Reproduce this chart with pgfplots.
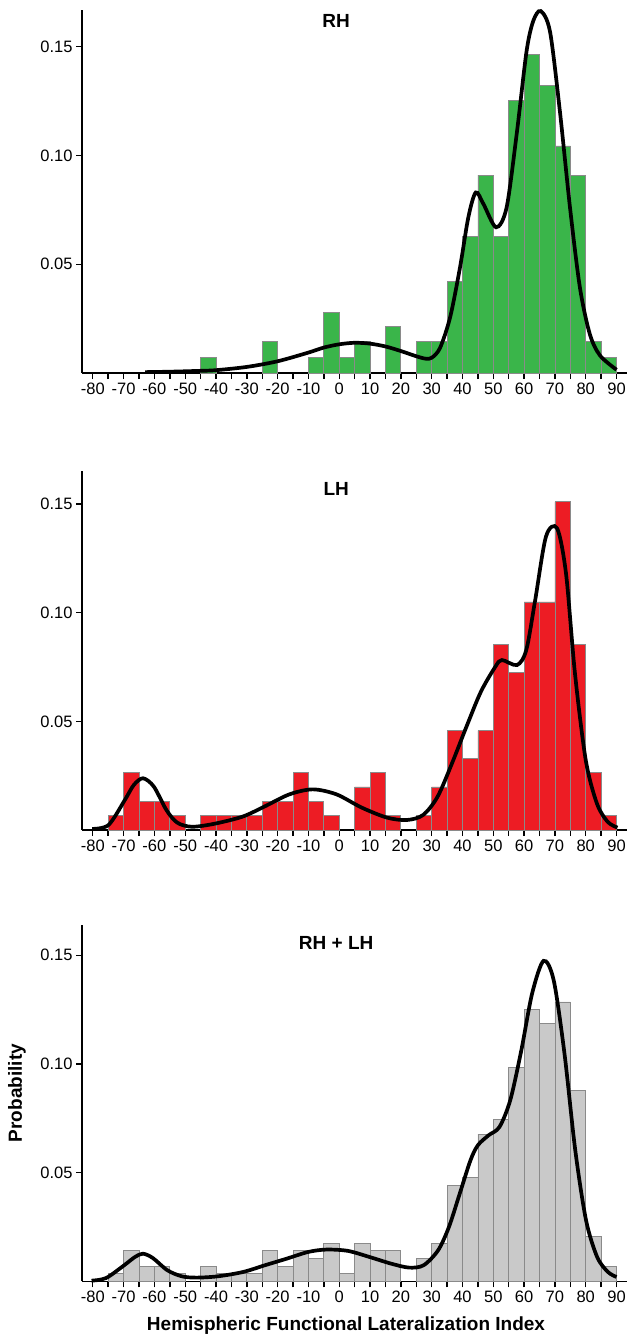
\documentclass[border=0pt]{standalone}
\usepackage{fontspec}
\setmainfont{Liberation Sans}
\usepackage{pgfplots}
\pgfplotsset{compat=1.18}
\definecolor{rhgreen}{HTML}{3AB54A}
\definecolor{lhred}{HTML}{ED1C24}
\definecolor{bothgray}{HTML}{C9C9C9}
\definecolor{edgegray}{HTML}{8A8A8A}
\pgfplotsset{
  hfli/.style={
    scale only axis, width=544.7pt, anchor=south west,
    xmin=-83.5, xmax=93.3, ymin=0,
    axis x line=bottom, axis y line=left,
    axis line style={line width=1.6pt, -},
    xtick={-80,-70,...,90}, minor xtick={-75,-65,...,85},
    xticklabels={-80,-70,-60,-50,-40,-30,-20,-10,0,10,20,30,40,50,60,70,80,90},
    ytick={0.05,0.10,0.15}, yticklabels={0.05,0.10,0.15},
    tick align=outside, major tick length=6pt, minor tick length=6pt,
    tick style={black, line width=1.4pt},
    minor tick style={black, line width=1.4pt},
    tick label style={font=\fontsize{16.5}{18}\selectfont},
    clip=false,
  },
  bars/.style={ybar, bar width=5, bar shift=0pt, draw=edgegray, line width=0.8pt},
  kde/.style={black, line width=3.7pt, smooth, no markers},
}
\begin{document}
\begin{tikzpicture}
\path[use as bounding box] (0,0) rectangle (628pt,-1341pt);
% ---------- RH ----------
\begin{axis}[hfli, at={(82pt,-373pt)}, height=363pt, ymax=0.1669]
\addplot[bars, fill=rhgreen] coordinates {
(-42.5,0.0073) (-22.5,0.0145) (-7.5,0.0073) (-2.5,0.0280) (2.5,0.0073) (7.5,0.0145)
(17.5,0.0213) (27.5,0.0145) (32.5,0.0145) (37.5,0.0420) (42.5,0.0628) (47.5,0.0910)
(52.5,0.0628) (57.5,0.1254) (62.5,0.1465) (67.5,0.1324) (72.5,0.1044) (77.5,0.0910)
(82.5,0.0145) (87.5,0.0073)};
\addplot[kde] coordinates {
(-63,0.0004) (-55,0.0006) (-45,0.0010) (-40,0.0013) (-30,0.0028) (-20,0.0054)
(-10,0.0094) (-5,0.0117) (0,0.0132) (5,0.0139) (10,0.0135) (15,0.0122) (20,0.0101)
(25,0.0077) (28,0.0066) (30,0.0070) (32.7,0.0115) (36,0.0257) (39.2,0.0486)
(41.9,0.0716) (44.3,0.0830) (46.8,0.0777) (50.9,0.0670) (54.3,0.0760) (57.6,0.1100)
(60.8,0.1480) (63,0.1620) (65.4,0.1664) (68.4,0.1570) (71.6,0.1205) (74.9,0.0760)
(78.1,0.0394) (81.3,0.0180) (84.6,0.0081) (90,0.0015)};
\node[font=\bfseries\fontsize{19}{22}\selectfont] at (axis cs:-1,0.1618) {RH};
\end{axis}
% ---------- LH ----------
\begin{axis}[hfli, at={(82pt,-830pt)}, height=359.3pt, ymax=0.1653]
\addplot[bars, fill=lhred] coordinates {
(-72.5,0.0066) (-67.5,0.0264) (-62.5,0.0132) (-57.5,0.0132) (-52.5,0.0066)
(-42.5,0.0066) (-37.5,0.0066) (-32.5,0.0066) (-27.5,0.0066) (-22.5,0.0132)
(-17.5,0.0132) (-12.5,0.0264) (-7.5,0.0132) (-2.5,0.0066) (7.5,0.0198) (12.5,0.0264)
(17.5,0.0066) (27.5,0.0066) (32.5,0.0198) (37.5,0.0457) (42.5,0.0330) (47.5,0.0457)
(52.5,0.0853) (57.5,0.0724) (62.5,0.1049) (67.5,0.1049) (72.5,0.1510) (77.5,0.0853)
(82.5,0.0264) (87.5,0.0066)};
\addplot[kde] coordinates {
(-80.2,0.0005) (-74.9,0.0023) (-69.6,0.0138) (-66.7,0.0207) (-63.7,0.0238)
(-60.2,0.0200) (-56.1,0.0092) (-52.6,0.0034) (-47.9,0.0015) (-40.8,0.0028)
(-31.5,0.0061) (-24.4,0.0107) (-16.2,0.0164) (-8.6,0.0187) (-0.9,0.0164) (7.3,0.0103)
(15.5,0.0057) (21.9,0.0046) (27.2,0.0069) (31.9,0.0153) (36.6,0.0307) (41.3,0.0476)
(46,0.0637) (50.7,0.0752) (52.8,0.0782) (57.7,0.0759) (60.7,0.0828) (63.6,0.1058)
(67.1,0.1350) (70.7,0.1388) (73.6,0.1180) (76.5,0.0721) (80,0.0322) (83.6,0.0123)
(87.1,0.0038) (90.3,0.0011)};
\node[font=\bfseries\fontsize{19}{22}\selectfont] at (axis cs:-1,0.1570) {LH};
\end{axis}
% ---------- RH + LH ----------
\begin{axis}[hfli, at={(82pt,-1281.3pt)}, height=356.3pt, ymax=0.1639]
\addplot[bars, fill=bothgray] coordinates {
(-72.5,0.0035) (-67.5,0.0140) (-62.5,0.0069) (-57.5,0.0069) (-52.5,0.0035)
(-42.5,0.0069) (-37.5,0.0035) (-32.5,0.0035) (-27.5,0.0035) (-22.5,0.0140)
(-17.5,0.0069) (-12.5,0.0140) (-7.5,0.0104) (-2.5,0.0173) (2.5,0.0035) (7.5,0.0173)
(12.5,0.0140) (17.5,0.0140) (27.5,0.0104) (32.5,0.0173) (37.5,0.0439) (42.5,0.0477)
(47.5,0.0677) (52.5,0.0744) (57.5,0.0982) (62.5,0.1250) (67.5,0.1186) (72.5,0.1285)
(77.5,0.0879) (82.5,0.0207) (87.5,0.0069)};
\addplot[kde] coordinates {
(-80.4,0.0003) (-75.7,0.0015) (-69.8,0.0074) (-66.3,0.0112) (-63.7,0.0127)
(-60.5,0.0107) (-55.8,0.0051) (-51.1,0.0023) (-46.4,0.0017) (-39.4,0.0023)
(-31.2,0.0043) (-24.1,0.0074) (-17.1,0.0104) (-10.1,0.0135) (-4.2,0.0146) (2.8,0.0140)
(9.8,0.0112) (16.9,0.0081) (22.7,0.0063) (27.4,0.0074) (32.1,0.0143) (35.6,0.0250)
(39.1,0.0403) (42.6,0.0557) (45,0.0626) (48.5,0.0672) (52,0.0710) (55.5,0.0833)
(59.1,0.1063) (62.6,0.1324) (66.3,0.1474) (69.6,0.1385) (73.1,0.1048) (76.6,0.0603)
(80.1,0.0281) (83.7,0.0112) (87.2,0.0043) (90,0.0020)};
\node[font=\bfseries\fontsize{19}{22}\selectfont] at (axis cs:-1,0.1556) {RH + LH};
\end{axis}
\node[rotate=90, font=\bfseries\fontsize{19}{22}\selectfont] at (17pt,-1093pt) {Probability};
\node[font=\bfseries\fontsize{19}{22}\selectfont] at (346pt,-1326pt) {Hemispheric Functional Lateralization Index};
\end{tikzpicture}
\end{document}
